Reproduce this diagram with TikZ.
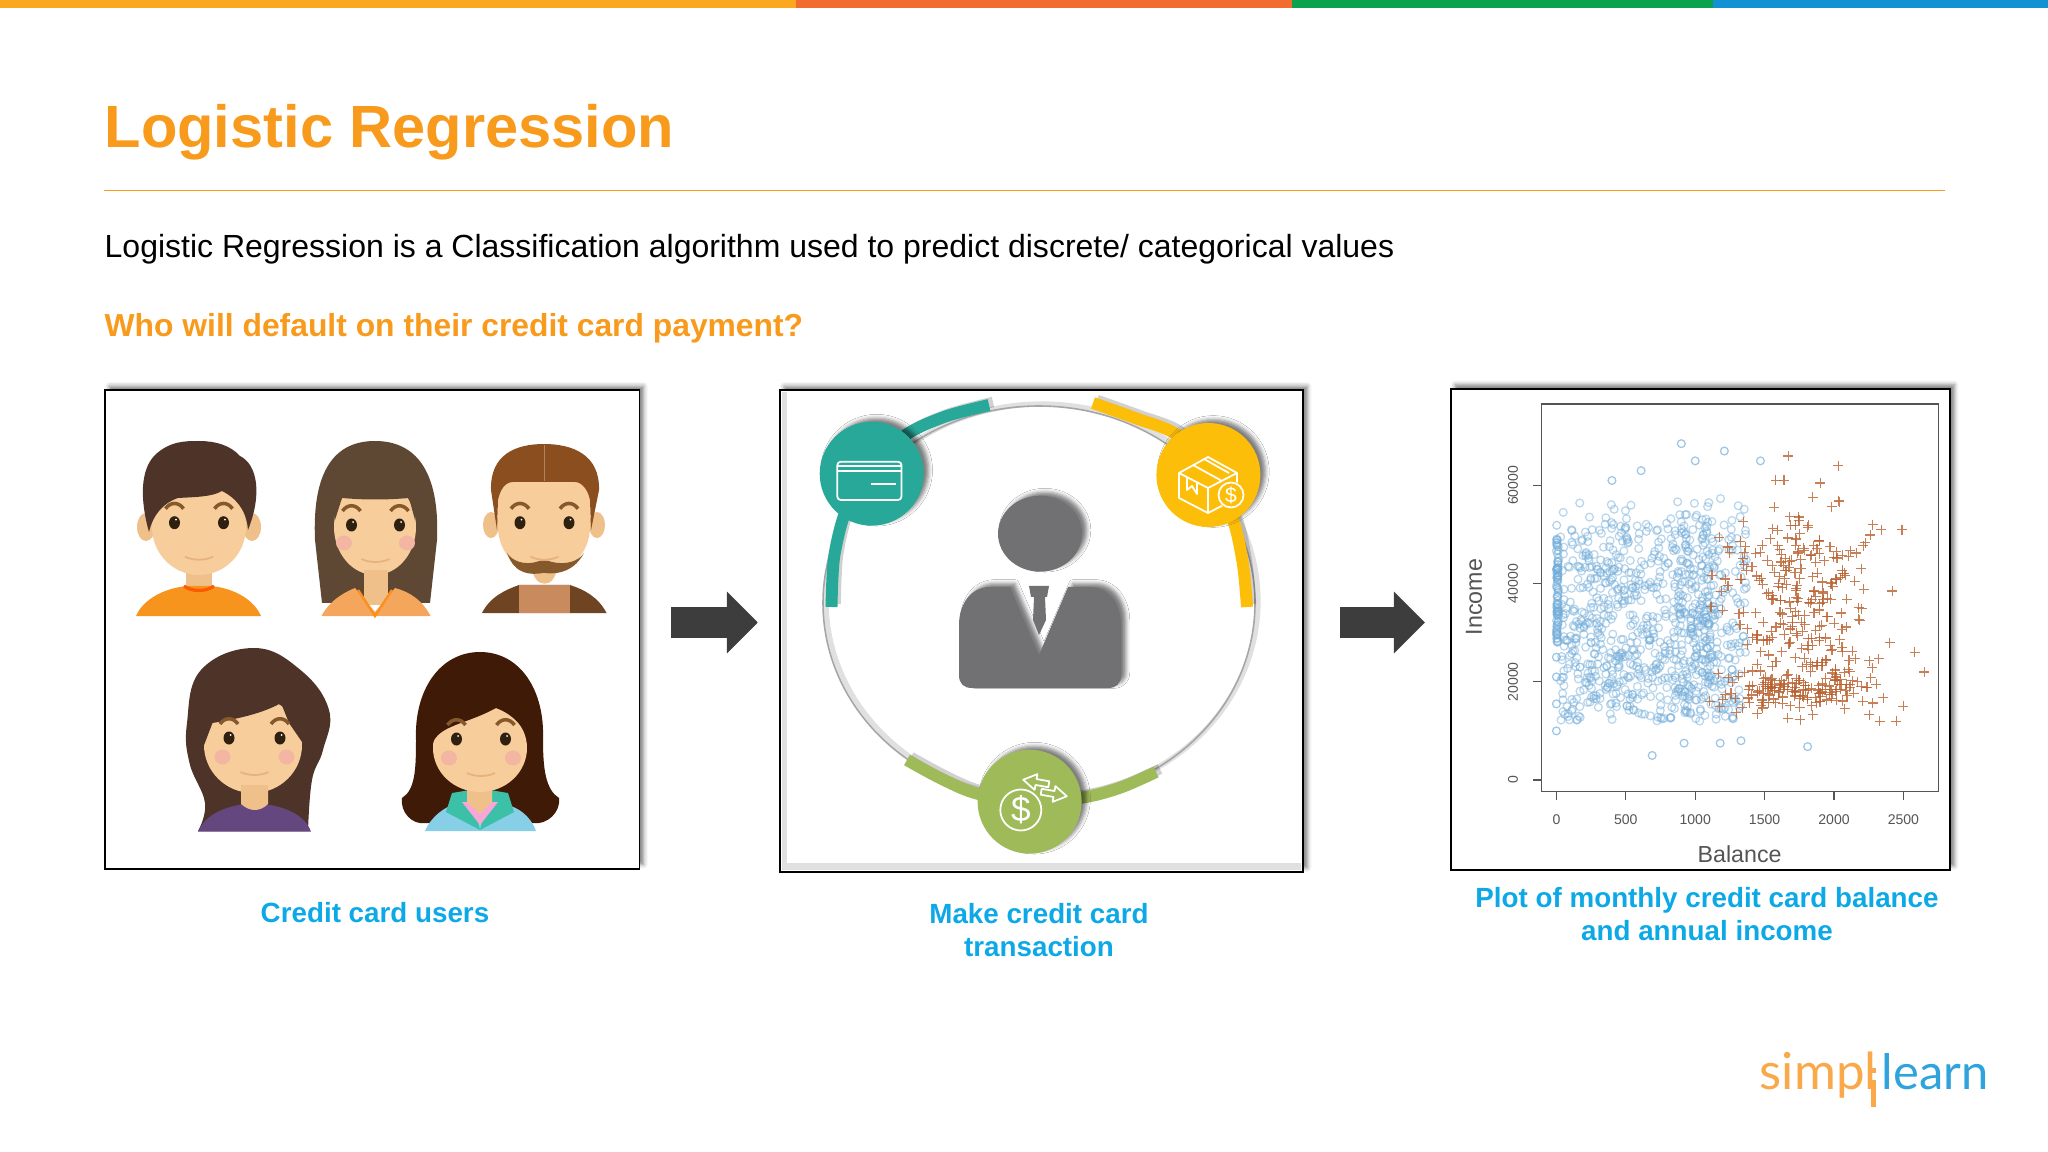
\documentclass[tikz,border=0pt]{standalone}
\usepackage{fontspec}
\setmainfont{Liberation Sans}
\newfontfamily\logofont{Lato}
\usetikzlibrary{arrows.meta}
\usetikzlibrary{shadows.blur}
\definecolor{ttl}{HTML}{F89A1C}
\definecolor{capblue}{HTML}{0DA9E6}
\definecolor{teal1}{HTML}{27A899}
\definecolor{yel1}{HTML}{FDBE0A}
\definecolor{grn1}{HTML}{9FBB59}
\definecolor{suit}{HTML}{717073}
\definecolor{skin}{HTML}{F6CD9B}
\definecolor{ear}{HTML}{EFC08A}
\definecolor{blush}{HTML}{F3B6A2}
\definecolor{hairA}{HTML}{4E3428}
\definecolor{hairB}{HTML}{5F4833}
\definecolor{hairC}{HTML}{8B4E1F}
\definecolor{hairD}{HTML}{3F1A06}
\definecolor{dotblue}{HTML}{74AEDA}
\definecolor{dotred}{HTML}{B9602F}
\definecolor{plotink}{HTML}{555555}
\definecolor{logoorange}{HTML}{F9A94A}
\definecolor{logoblue}{HTML}{2FA3DB}
\tikzset{panel/.style={draw=black,line width=.5pt,fill=white,outer sep=0pt,inner sep=0pt,
  blur shadow={shadow xshift=1.2pt,shadow yshift=1.2pt,shadow blur radius=1.2pt,shadow opacity=50}}}
\tikzset{capt/.style={text=capblue,font=\fontsize{7.9pt}{9.4pt}\selectfont\bfseries,align=center,inner sep=0pt}}
\tikzset{blockarrow/.style={draw=black!76,line width=.31cm,-{Triangle[length=.31cm,width=.6cm]}}}
\tikzset{softshade/.style={blur shadow={shadow xshift=1.4pt,shadow yshift=1pt,shadow blur radius=1.1pt,shadow opacity=50}}}
\tikzset{iconline/.style={draw=white,line width=.5pt,line join=round}}
\tikzset{ticktxt/.style={text=plotink,font=\fontsize{4pt}{5pt}\selectfont,inner sep=0pt}}
\tikzset{axistxt/.style={text=plotink,font=\fontsize{6.6pt}{8pt}\selectfont,inner sep=0pt}}
\tikzset{plotline/.style={draw=plotink,line width=.35pt}}
\tikzset{logotxt/.style={anchor=base west,inner sep=0pt,font=\logofont\fontsize{14.5pt}{16pt}\selectfont}}
\newcommand{\facefeatures}[3]{%
\begin{scope}[shift={(#1,#2)}]
\foreach \s in {-1,1} {
\fill[black!75!brown] (\s*#3,0) ellipse [x radius=5.5,y radius=6.5];
\fill[white] (\s*#3+1.5,-3) circle [radius=1];
\draw[brown!70!black,line width=1pt] (\s*#3-9,-14) .. controls (\s*#3-4,-21) and (\s*#3+4,-21) .. (\s*#3+9,-14);
}
\draw[ear!80!brown,line width=.5pt] (-14,34) .. controls (-6,38) and (6,38) .. (14,34);
\end{scope}}
\newcommand{\cheeks}[3]{\foreach \s in {-1,1} {\fill[blush] (#1+\s*#3,#2) ellipse [x radius=8,y radius=7.5];}}
\newcommand{\band}[3]{%
\draw[black,opacity=.18,line width=3pt,shift={(4,-3)}] plot [smooth] coordinates {#2};
\draw[#1,line width=#3] plot [smooth] coordinates {#2};}
\begin{document}
\begin{tikzpicture}[x=0.01cm,y=-0.01cm]
\useasboundingbox (0,0) rectangle (2048,1152);
\fill[fill={rgb,255:red,251;green,168;blue,31}] (0,0) rectangle (796,8);
\fill[fill={rgb,255:red,242;green,107;blue,47}] (796,0) rectangle (1292,8);
\fill[fill={rgb,255:red,11;green,162;blue,77}] (1292,0) rectangle (1713,8);
\fill[fill={rgb,255:red,18;green,146;blue,210}] (1713,0) rectangle (2048,8);
\node (title) [anchor=base west,inner sep=0pt,text=ttl,font=\fontsize{16.95pt}{20pt}\selectfont\bfseries] at (104,148) {Logistic Regression};
\draw[ttl,line width=.4pt] (104,190.5) -- (1945,190.5);
\node (intro) [anchor=base west,inner sep=0pt,font=\fontsize{9.1pt}{11pt}\selectfont] at (104,257.5) {Logistic Regression is a Classification algorithm used to predict discrete/ categorical values};
\node (quest) [anchor=base west,inner sep=0pt,text=ttl,font=\fontsize{9.05pt}{11pt}\selectfont\bfseries] at (104,337) {Who will default on their credit card payment?};

\node (users) [panel,minimum width=5.34cm,minimum height=4.78cm] at (372.25,629.5) {};
\node (txn) [panel,minimum width=5.23cm,minimum height=4.815cm] at (1041.5,631.25) {};
\node (plot) [panel,minimum width=4.99cm,minimum height=4.81cm] at (1700.5,629.5) {};
\draw[blockarrow,shorten <=.32cm,shorten >=.22cm] (users.east |- 0,622.5) -- (txn.west |- 0,622.5);
\draw[blockarrow,shorten <=.37cm,shorten >=.26cm] (txn.east |- 0,622.5) -- (plot.west |- 0,622.5);
\node (cap1) [capt] at (375,913) {Credit card users};
\node (cap2) [capt] at (1039,930) {Make credit card\\transaction};
\node (cap3) [capt] at (1707,914) {Plot of monthly credit card balance\\and annual income};

\fill[ear] (146,527) ellipse [x radius=9,y radius=14] (252,527) ellipse [x radius=9,y radius=14];
\fill[ear] (186,565) rectangle (212,592);
\fill[fill={rgb,255:red,247;green,148;blue,30}] (136,616) .. controls (145,595) and (175,584) .. (199,586) .. controls (223,584) and (252,595) .. (261,616) -- cycle;
\draw[orange!70!red,line width=.9pt] (184,586) .. controls (192,592) and (206,592) .. (214,586);
\fill[skin] (199,527) ellipse [x radius=47,y radius=48];
\fill[hairA] (149,532) .. controls (140,500) and (140,470) .. (155,455) .. controls (170,441) and (185,441) .. (199,441) .. controls (215,441) and (230,445) .. (240,456) .. controls (258,465) and (262,495) .. (248,530) .. controls (247,515) and (240,500) .. (222,491) .. controls (212,497) and (195,497) .. (178,498) .. controls (163,503) and (153,515) .. (149,532) -- cycle;
\facefeatures{199}{522.7}{24.5}

\fill[hairB] (322,603) -- (315,540) .. controls (312,470) and (335,441) .. (375,441) .. controls (415,441) and (440,470) .. (437,540) -- (430,603) -- cycle;
\fill[skin] (375,527) ellipse [x radius=41,y radius=48];
\fill[hairB] (335,520) -- (335,470) -- (415,470) -- (415,520) -- (409,498) .. controls (385,500) and (365,500) .. (342,498) -- cycle;
\fill[ear] (364,570) rectangle (388,605);
\fill[fill={rgb,255:red,244;green,166;blue,92}] (321.5,616) .. controls (330,600) and (345,592) .. (355,588) -- (375,612) -- (395,588) .. controls (410,592) and (422,600) .. (430.6,616) -- cycle;
\draw[orange!80!skin,line width=.7pt] (358,590) -- (375,616) -- (392,590);
\cheeks{375.5}{543}{31.5}
\facefeatures{375.5}{525}{24}

\fill[ear] (491,525) ellipse [x radius=8,y radius=13] (597,525) ellipse [x radius=8,y radius=13];
\fill[fill={rgb,255:red,110;green,68;blue,35}] (482,613) .. controls (490,597) and (505,590) .. (519,585) -- (570,585) .. controls (585,590) and (598,597) .. (606.6,613) -- cycle;
\fill[fill={rgb,255:red,201;green,138;blue,94}] (518.6,585) rectangle (570,613);
\fill[ear] (532,565) .. controls (532,590) and (557,590) .. (557,565) -- cycle;
\fill[skin] (544,527) ellipse [x radius=46,y radius=47];
\fill[skin] (498,480) rectangle (590,530);
\fill[hairC] (497,530) -- (491,490) .. controls (490,455) and (515,444) .. (544,444) .. controls (573,444) and (600,455) .. (599,490) -- (591,530) -- (590,500) .. controls (588,490) and (582,482) .. (575,482) -- (513,482) .. controls (505,482) and (500,490) .. (498,500) -- cycle;
\draw[hairC!70!white,line width=.2pt] (544,445) -- (544,481);
\fill[brown!70!black] (507,553) .. controls (515,575) and (530,575) .. (544,573) .. controls (560,575) and (575,570) .. (584,553) .. controls (578,562) and (565,565) .. (552,562) .. controls (548,560) and (540,560) .. (536,562) .. controls (525,565) and (513,562) .. (507,553) -- cycle;
\facefeatures{544.5}{522.7}{24.5}

\fill[hairA] plot [smooth,tension=.7] coordinates {(198,831) (205,803) (189.5,763) (187,723) (201,670) (254,648) (300.5,670) (329,710) (323,750) (312,780) (308,831)} -- cycle;
\fill[fill={rgb,255:red,100;green,71;blue,127}] (198,831.7) .. controls (205,815) and (225,805) .. (254,803) .. controls (285,805) and (305,815) .. (311,831.7) -- cycle;
\fill[skin] (253,745) ellipse [x radius=49,y radius=48];
\fill[ear] (241,785) -- (268,785) -- (268,804) .. controls (260,812) and (250,812) .. (241,804) -- cycle;
\fill[hairA] (201,753) -- (212.5,723) .. controls (230,720) and (260,715) .. (281,703) -- (289,723) -- (311,755) -- (322,700) -- (254,660) -- (192,700) -- cycle;
\cheeks{254.5}{757}{32}
\facefeatures{254.5}{738}{25.5}

\fill[hairD] (425,823) .. controls (412,825) and (400,812) .. (402,798) .. controls (415,790) and (416,770) .. (416,740) .. controls (414,690) and (440,652) .. (480,652) .. controls (520,652) and (545,690) .. (543,740) .. controls (543,770) and (546,790) .. (559,798) .. controls (561,812) and (547,825) .. (534,823) -- cycle;
\fill[fill={rgb,255:red,134;green,207;blue,230}] (425,831) .. controls (432,815) and (445,808) .. (452,805) -- (508,805) .. controls (518,808) and (530,815) .. (536,831) -- cycle;
\fill[fill={rgb,255:red,60;green,192;blue,168}] (446,812) -- (452,793) -- (470,790) -- (480,830) -- (490,790) -- (508,793) -- (514,812) -- (480,830) -- cycle;
\fill[magenta!35!white] (462,802) -- (498,802) -- (480,825) -- cycle;
\fill[ear] (467,785) -- (492,785) -- (492,802) -- (480,814) -- (467,802) -- cycle;
\fill[skin] (480,748) ellipse [x radius=47,y radius=44];
\fill[hairD] (432,745) .. controls (438,725) and (465,725) .. (496,708) .. controls (515,715) and (527,730) .. (528,745) -- (530,700) -- (430,700) -- cycle;
\cheeks{481}{758}{32}
\facefeatures{481}{739}{24.5}

\fill[black!12] ([xshift=.5pt,yshift=.5pt]txn.south west) rectangle ([xshift=-.5pt,yshift=-.5pt]txn.north east);
\fill[white] ([xshift=2pt,yshift=2.5pt]txn.south west) rectangle ([xshift=-.5pt,yshift=-.5pt]txn.north east);
\draw[black,line width=.5pt] (txn.south west) rectangle (txn.north east);
\draw[black,opacity=.12,line width=1.5pt,shift={(3,-2)}] (1039,603) ellipse [x radius=216,y radius=197];
\draw[black!35,line width=.45pt] (1039,603) ellipse [x radius=216,y radius=197];
\band{teal1}{(989,405) (944,417) (903,437) (865,480) (845,513) (834,558) (831.5,607)}{3.4pt}
\band{yel1}{(1093,403) (1135,418) (1177,435) (1210,475) (1233,520) (1243,565) (1247,607)}{3.4pt}
\band{grn1}{(907,760) (940,778) (975,793) (1030,803) (1086,797) (1122,787) (1156,772)}{3.4pt}
\fill[teal1,softshade] (871.7,473.7) circle [radius=52];
\fill[yel1,softshade] (1208.4,475) circle [radius=52];
\fill[grn1,softshade] (1029.6,801.7) circle [radius=52];
\fill[suit,softshade] (1040,533.7) ellipse [x radius=42,y radius=38];
\fill[suit,softshade] (1010,587) -- (990,587) .. controls (970,587) and (959,605) .. (959,625) -- (959,675) .. controls (959,684) and (964,688) .. (972,688) -- (1108,688) .. controls (1116,688) and (1121,684) .. (1121,675) -- (1121,625) .. controls (1121,605) and (1110,587) .. (1090,587) -- (1068,587) -- (1039,655) -- cycle;
\fill[suit] (1029,586) -- (1049,586) -- (1047,597) -- (1045,597) -- (1046,620) -- (1039,635) -- (1033,620) -- (1034,597) -- (1031,597) -- cycle;

\draw[iconline,rounded corners=1pt] (837.3,461.7) rectangle (901.5,500);
\draw[iconline] (837.3,466) -- (901.5,466) (837.3,470.7) -- (901.5,470.7) (871,484) -- (895.6,484);
\draw[iconline] (1208,457) -- (1237,473) -- (1237,498) -- (1208,513) -- (1179,498) -- (1179,473) -- cycle;
\draw[iconline] (1179,473) -- (1208,488) -- (1237,473) (1208,488) -- (1208,513);
\draw[iconline] (1193,465) -- (1222,481) (1204,459) -- (1229,473) (1187,477) -- (1187,490) -- (1192,486) -- (1197,494) -- (1197,482);
\fill[yel1] (1231,495) circle [radius=14];
\draw[iconline] (1231,495) circle [radius=12.5];
\node (boxcoin) [text=white,inner sep=0pt,font=\fontsize{6pt}{7pt}\selectfont] at (1231,495) {\$};
\draw[iconline] (1020.8,810) circle [radius=20.5];
\node (swapcoin) [text=white,inner sep=0pt,font=\fontsize{10pt}{11pt}\selectfont] at (1020.8,810) {\$};
\draw[iconline,shift={(1036,782)},rotate=-10] (13,-3) -- (0,-3) -- (0,-8) -- (-13,0) -- (0,8) -- (0,3) -- (13,3) -- cycle;
\draw[iconline,shift={(1054,794)},rotate=-10] (-13,-3) -- (0,-3) -- (0,-8) -- (13,0) -- (0,8) -- (0,3) -- (-13,3) -- cycle;

\draw[plotline] (1541.6,404) rectangle (1938.6,791.7);
\draw[plotline] (1556.4,791.7) -- (1903.4,791.7);
\foreach \v in {0,500,1000,1500,2000,2500} {
\draw[plotline] (1556.4+\v*.1388,791.7) -- (1556.4+\v*.1388,799.7);
\node (xt\v) [ticktxt] at (1556.4+\v*.1388,820) {\v};
}
\foreach \v/\t in {0/0,20/20000,40/40000,60/60000} {
\draw[plotline] (1541.6,780-\v*4.91) -- (1532.6,780-\v*4.91);
\node (yt\v) [ticktxt,rotate=90] at (1513,780-\v*4.91) {\t};
}
\node (xlab) [axistxt] at (1739.6,854) {Balance};
\node (ylab) [axistxt,rotate=90] at (1474,597) {Income};
\pgfmathsetseed{4711}
\foreach \i in {1,...,80} {
\pgfmathsetmacro{\py}{780-(28+25*rnd*(.5+.5*rnd))*4.91}
\draw[dotblue,line width=.35pt,opacity=.55] (1556.4+2*rnd,\py) circle [radius=3.9];
}
\foreach \i in {1,...,900} {
\pgfmathsetmacro{\px}{1556.4+(rnd<.75 ? 30+1120*rnd : 850+520*rnd)*.1388}
\pgfmathsetmacro{\py}{780-(rnd<.42 ? 12+16*rnd : 28+30*rnd*(.65+.35*rnd))*4.91}
\draw[dotblue,line width=.35pt,opacity=.5] (\px,\py) circle [radius=3.9];
}
\foreach \b/\c in {900/68.5,1210/67,1000/65,1470/65,400/61,610/63,0/10,690/5,1810/6.8,1330/8,920/7.5,1180/7.5,0/25,0/21,0/15.5,170/23,250/28} {
\draw[dotblue,line width=.35pt,opacity=.7] (1556.4+\b*.1388,780-\c*4.91) circle [radius=3.9];
}
\foreach \i in {1,...,350} {
\pgfmathsetmacro{\px}{1556.4+(1080+(rnd+rnd)*.5*1300)*.1388}
\pgfmathsetmacro{\py}{780-(rnd<.4 ? 11+(rnd+rnd)*.5*16 : 26+33*rnd*(.6+.4*rnd))*4.91}
\draw[dotred,line width=.32pt,opacity=.8] (\px-5,\py) -- (\px+5,\py) (\px,\py-5) -- (\px,\py+5);
}
\foreach \i in {1,...,35} {
\pgfmathsetmacro{\px}{1556.4+(1450+800*rnd)*.1388}
\pgfmathsetmacro{\py}{780-(16+4*rnd)*4.91}
\draw[dotred,line width=.32pt,opacity=.8] (\px-5,\py) -- (\px+5,\py) (\px,\py-5) -- (\px,\py+5);
}
\foreach \b/\c in {1670/66,2030/64,2580/26,2650/22,2490/51,2420/38.5,2450/12,2330/12,2500/15,1580/61,1640/61,1900/60.5,2280/52,2340/51,2400/28} {
\draw[dotred,line width=.32pt,opacity=.8] (1556.4+\b*.1388-5,780-\c*4.91) -- (1556.4+\b*.1388+5,780-\c*4.91) (1556.4+\b*.1388,780-\c*4.91-5) -- (1556.4+\b*.1388,780-\c*4.91+5);
}

\node (simpl) [logotxt,text=logoorange] at (1759,1089) {simpl};
\node (learn) [logotxt,text=logoblue,font=\logofont\fontsize{13.9pt}{16pt}\selectfont] at (1881,1089) {learn};
\fill[logoorange] (1871,1080) rectangle (1876,1107);
\fill[logoorange] (1871,1068) rectangle (1876,1073);
\end{tikzpicture}
\end{document}
